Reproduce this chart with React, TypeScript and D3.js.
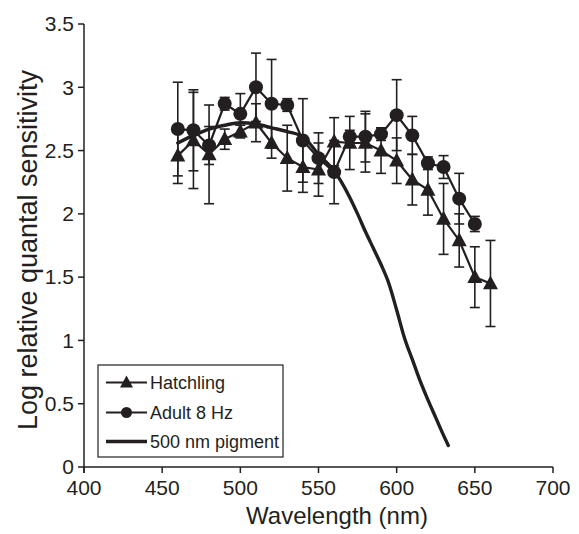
import React from 'react';
import * as d3 from 'd3';

const W = 579;
const H = 534;

const xTickValues = [400, 450, 500, 550, 600, 650, 700];
const yTickValues = [0, 0.5, 1, 1.5, 2, 2.5, 3, 3.5];
const yTickLabels = ['0', '0.5', '1', '1.5', '2', '2.5', '3', '3.5'];

const hatchWl = [460, 470, 480, 490, 500, 510, 520, 530, 540, 550, 560, 570, 580, 590, 600, 610, 620, 630, 640, 650, 660];
const hatchVal = [2.46, 2.58, 2.47, 2.59, 2.65, 2.72, 2.56, 2.44, 2.37, 2.35, 2.57, 2.56, 2.56, 2.5, 2.42, 2.27, 2.19, 1.96, 1.79, 1.5, 1.45];
const hatchErr = [0.22, 0.38, 0.39, 0.08, 0.05, 0.15, 0.12, 0.26, 0.2, 0.21, 0.19, 0.21, 0.23, 0.18, 0.18, 0.2, 0.2, 0.28, 0.21, 0.24, 0.34];

const adultWl = [460, 470, 480, 490, 500, 510, 520, 530, 540, 550, 560, 570, 580, 590, 600, 610, 620, 630, 640, 650];
const adultVal = [2.67, 2.66, 2.54, 2.87, 2.79, 3.0, 2.87, 2.86, 2.58, 2.44, 2.33, 2.61, 2.61, 2.63, 2.78, 2.62, 2.4, 2.37, 2.12, 1.92];
const adultErr = [0.37, 0.32, 0.15, 0.05, 0.16, 0.27, 0.35, 0.05, 0.33, 0.2, 0.25, 0.05, 0.2, 0.05, 0.28, 0.15, 0.05, 0.09, 0.2, 0.06];

const pigWl = [460, 470, 480, 490, 500, 510, 520, 530, 540, 550, 560, 570, 575, 580, 585, 590, 595, 600, 605, 610, 615, 620, 625, 630, 633];
const pigVal = [2.56, 2.62, 2.67, 2.7, 2.72, 2.71, 2.68, 2.65, 2.61, 2.47, 2.34, 2.13, 2.0, 1.86, 1.73, 1.6, 1.45, 1.24, 1.02, 0.85, 0.68, 0.53, 0.39, 0.25, 0.17];

const legendLabels = ['Hatchling', 'Adult 8 Hz', '500 nm pigment'];

const INK = '#231f20';
const FONT = '"Liberation Sans", Arial, Helvetica, sans-serif';

function tri(cx: number, cy: number, s: number) {
  const h = s * 0.93;
  return `M${cx},${cy - h * 0.58}L${cx + s / 2},${cy + h * 0.42}L${cx - s / 2},${cy + h * 0.42}Z`;
}

export default function App() {
  const x = d3.scaleLinear().domain([400, 700]).range([84, 553]);
  const y = d3.scaleLinear().domain([0, 3.5]).range([467, 24]);

  const line = d3.line<[number, number]>().x(d => x(d[0])).y(d => y(d[1]));
  const smooth = d3.line<[number, number]>().x(d => x(d[0])).y(d => y(d[1])).curve(d3.curveMonotoneX);

  const hatch: [number, number][] = hatchWl.map((w, i) => [w, hatchVal[i]]);
  const adult: [number, number][] = adultWl.map((w, i) => [w, adultVal[i]]);
  const pig: [number, number][] = pigWl.map((w, i) => [w, pigVal[i]]);

  const cap = 5;
  const errBars = (wl: number[], val: number[], err: number[], key: string) =>
    wl.map((w, i) => {
      const cx = x(w);
      const y1 = y(val[i] + err[i]);
      const y2 = y(val[i] - err[i]);
      return (
        <g key={key + i} stroke={INK} strokeWidth={1.6}>
          <line x1={cx} x2={cx} y1={y1} y2={y2} />
          <line x1={cx - cap} x2={cx + cap} y1={y1} y2={y1} />
          <line x1={cx - cap} x2={cx + cap} y1={y2} y2={y2} />
        </g>
      );
    });

  const legX1 = 106;
  const legX2 = 147;
  const legY = [382.5, 412.5, 441.5];

  return (
    <svg width={W} height={H} style={{ position: 'absolute', left: 0, top: 0, background: '#fff' }} fontFamily={FONT}>
      {/* axes */}
      <g stroke={INK} strokeWidth={1.5} fill="none">
        <line x1={x(400)} x2={x(400)} y1={y(3.5)} y2={y(0) + 6} />
        <line x1={x(400)} x2={x(700)} y1={y(0)} y2={y(0)} />
        {yTickValues.map(v => (
          <line key={'yt' + v} x1={x(400) - 6} x2={x(400)} y1={y(v)} y2={y(v)} />
        ))}
        {xTickValues.map(v => (
          <line key={'xt' + v} x1={x(v)} x2={x(v)} y1={y(0)} y2={y(0) + 6} />
        ))}
      </g>
      {yTickValues.map((v, i) => (
        <text key={'yl' + v} x={x(400) - 10} y={y(v)} dy="0.35em" textAnchor="end" fontSize={21} fill={INK}>
          {yTickLabels[i]}
        </text>
      ))}
      {xTickValues.map(v => (
        <text key={'xl' + v} x={x(v)} y={y(0) + 28} textAnchor="middle" fontSize={21} fill={INK}>
          {v}
        </text>
      ))}
      <text x={337} y={524} textAnchor="middle" fontSize={24} fill={INK}>
        Wavelength (nm)
      </text>
      <text transform={`translate(37, 250) rotate(-90)`} textAnchor="middle" fontSize={27} fill={INK}>
        Log relative quantal sensitivity
      </text>

      {/* error bars */}
      {errBars(hatchWl, hatchVal, hatchErr, 'he')}
      {errBars(adultWl, adultVal, adultErr, 'ae')}

      {/* lines */}
      <path d={line(hatch) || ''} fill="none" stroke={INK} strokeWidth={2.2} />
      <path d={line(adult) || ''} fill="none" stroke={INK} strokeWidth={2.2} />
      <path d={smooth(pig) || ''} fill="none" stroke={INK} strokeWidth={3.4} strokeLinecap="round" />

      {/* markers */}
      {hatch.map((d, i) => (
        <path key={'hm' + i} d={tri(x(d[0]), y(d[1]), 15)} fill={INK} />
      ))}
      {adult.map((d, i) => (
        <circle key={'am' + i} cx={x(d[0])} cy={y(d[1])} r={7} fill={INK} />
      ))}

      {/* legend */}
      <rect x={98} y={365} width={185} height={92} fill="#fff" stroke={INK} strokeWidth={1.2} />
      <line x1={legX1} x2={legX2} y1={legY[0]} y2={legY[0]} stroke={INK} strokeWidth={2.2} />
      <path d={tri((legX1 + legX2) / 2, legY[0], 13)} fill={INK} />
      <line x1={legX1} x2={legX2} y1={legY[1]} y2={legY[1]} stroke={INK} strokeWidth={2.2} />
      <circle cx={(legX1 + legX2) / 2} cy={legY[1]} r={5.5} fill={INK} />
      <line x1={legX1} x2={legX2} y1={legY[2]} y2={legY[2]} stroke={INK} strokeWidth={3.4} />
      {legendLabels.map((t, i) => (
        <text key={'lg' + i} x={150} y={legY[i]} dy="0.35em" fontSize={18} fill={INK}>
          {t}
        </text>
      ))}
    </svg>
  );
}
